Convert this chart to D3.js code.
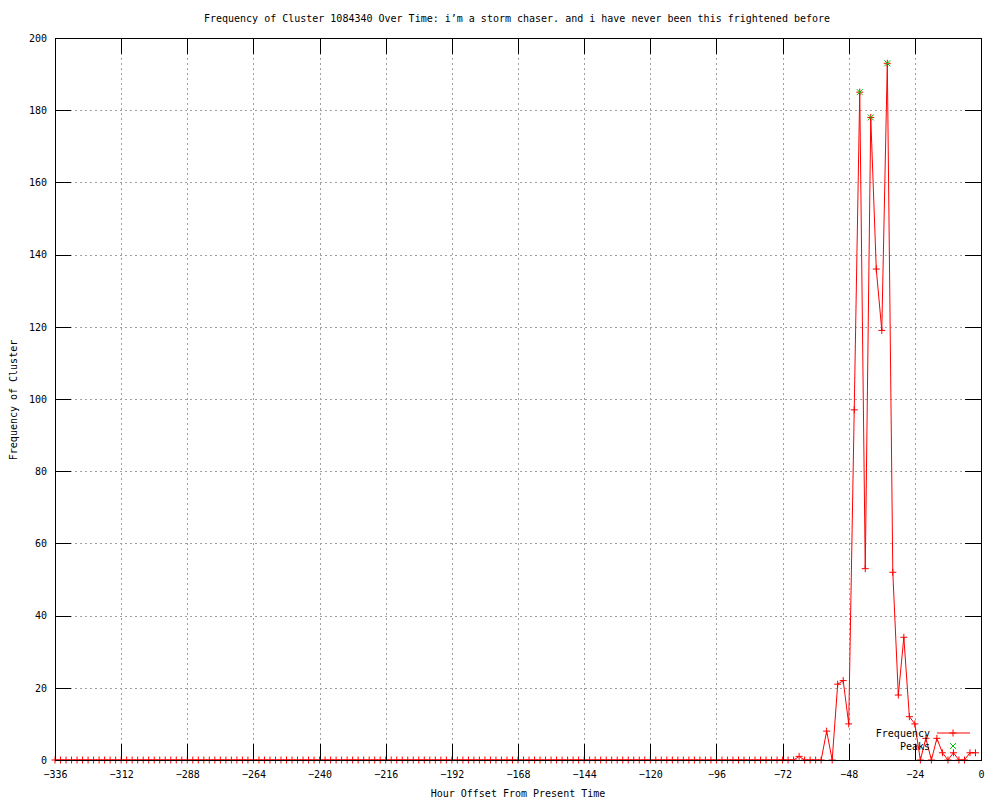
<!DOCTYPE html>
<html>
<head>
<meta charset="utf-8">
<script src="https://cdn.jsdelivr.net/npm/d3@7"></script>
<style>
  body { margin: 0; background: #fff; }
  svg text { font-family: "DejaVu Sans Mono", monospace; font-size: 10px; fill: #000; }
</style>
</head>
<body>
<div id="chart"></div>
<script>
// --- Data ---
const hours = [
  -336, -334, -332, -330, -328, -326, -324, -322, -320, -318, -316, -314,
  -312, -310, -308, -306, -304, -302, -300, -298, -296, -294, -292, -290,
  -288, -286, -284, -282, -280, -278, -276, -274, -272, -270, -268, -266,
  -264, -262, -260, -258, -256, -254, -252, -250, -248, -246, -244, -242,
  -240, -238, -236, -234, -232, -230, -228, -226, -224, -222, -220, -218,
  -216, -214, -212, -210, -208, -206, -204, -202, -200, -198, -196, -194,
  -192, -190, -188, -186, -184, -182, -180, -178, -176, -174, -172, -170,
  -168, -166, -164, -162, -160, -158, -156, -154, -152, -150, -148, -146,
  -144, -142, -140, -138, -136, -134, -132, -130, -128, -126, -124, -122,
  -120, -118, -116, -114, -112, -110, -108, -106, -104, -102, -100, -98,
  -96, -94, -92, -90, -88, -86, -84, -82, -80, -78, -76, -74,
  -72, -70, -68, -66, -64, -62, -60, -58, -56, -54, -52, -50,
  -48, -46, -44, -42, -40, -38, -36, -34, -32, -30, -28, -26,
  -24, -22, -20, -18, -16, -14, -12, -10, -8, -6, -4, -2
];

const frequency = [
  0, 0, 0, 0, 0, 0, 0, 0, 0, 0, 0, 0,
  0, 0, 0, 0, 0, 0, 0, 0, 0, 0, 0, 0,
  0, 0, 0, 0, 0, 0, 0, 0, 0, 0, 0, 0,
  0, 0, 0, 0, 0, 0, 0, 0, 0, 0, 0, 0,
  0, 0, 0, 0, 0, 0, 0, 0, 0, 0, 0, 0,
  0, 0, 0, 0, 0, 0, 0, 0, 0, 0, 0, 0,
  0, 0, 0, 0, 0, 0, 0, 0, 0, 0, 0, 0,
  0, 0, 0, 0, 0, 0, 0, 0, 0, 0, 0, 0,
  0, 0, 0, 0, 0, 0, 0, 0, 0, 0, 0, 0,
  0, 0, 0, 0, 0, 0, 0, 0, 0, 0, 0, 0,
  0, 0, 0, 0, 0, 0, 0, 0, 0, 0, 0, 0,
  0, 0, 0, 1, 0, 0, 0, 0, 8, 0, 21, 22,
  10, 97, 185, 53, 178, 136, 119, 193, 52, 18, 34, 12,
  10, 0, 6, 0, 6, 2, 0, 2, 0, 0, 2, 2
];

const peakHours = [-44, -40, -34];
const peakValues = [185, 178, 193];

const xTicks = [-336, -312, -288, -264, -240, -216, -192, -168, -144, -120, -96, -72, -48, -24, 0];
const yTicks = [0, 20, 40, 60, 80, 100, 120, 140, 160, 180, 200];

const titleText = "Frequency of Cluster 1084340 Over Time: i\u2019m a storm chaser. and i have never been this frightened before";

// --- Layout ---
const width = 1000, height = 800;
const plot = { left: 55, right: 981, top: 38, bottom: 760 };
const tickLen = 16;

const svg = d3.select("#chart").append("svg")
  .attr("width", width).attr("height", height);

const x = d3.scaleLinear().domain([-336, 0]).range([plot.left, plot.right]);
const y = d3.scaleLinear().domain([0, 200]).range([plot.bottom, plot.top]);

// grid (dotted gray, gnuplot style)
const grid = svg.append("g").attr("stroke", "#a0a0a0").attr("stroke-dasharray", "2,3").attr("shape-rendering", "crispEdges");
xTicks.slice(1, -1).forEach(t => {
  grid.append("line").attr("x1", Math.round(x(t)) + 0.5).attr("x2", Math.round(x(t)) + 0.5)
    .attr("y1", plot.top).attr("y2", plot.bottom);
});
yTicks.slice(1, -1).forEach(t => {
  grid.append("line").attr("y1", Math.round(y(t)) + 0.5).attr("y2", Math.round(y(t)) + 0.5)
    .attr("x1", plot.left).attr("x2", plot.right);
});

// data line + markers
const pts = hours.map((h, i) => ({ h: h, v: frequency[i] }));
svg.append("path")
  .datum(pts)
  .attr("fill", "none")
  .attr("stroke", "#ff0000")
  .attr("stroke-width", 1)
  .attr("d", d3.line().x(d => x(d.h)).y(d => y(d.v)));

function plus(g, cx, cy, s, color) {
  g.append("path")
    .attr("d", `M${cx - s},${cy}H${cx + s}M${cx},${cy - s}V${cy + s}`)
    .attr("stroke", color).attr("stroke-width", 1).attr("fill", "none");
}
function cross(g, cx, cy, s, color) {
  g.append("path")
    .attr("d", `M${cx - s},${cy - s}L${cx + s},${cy + s}M${cx - s},${cy + s}L${cx + s},${cy - s}`)
    .attr("stroke", color).attr("stroke-width", 1).attr("fill", "none");
}

const marks = svg.append("g");
pts.forEach(d => plus(marks, x(d.h), y(d.v), 3.5, "#ff0000"));
peakHours.forEach((h, i) => cross(marks, x(h), y(peakValues[i]), 3, "#00c000"));

// axes (ticks inward, mirrored)
const axB = svg.append("g").attr("transform", `translate(0,${plot.bottom})`)
  .call(d3.axisBottom(x).tickValues(xTicks).tickSize(-tickLen).tickPadding(11).tickFormat(d3.format("d")));
const axT = svg.append("g").attr("transform", `translate(0,${plot.top})`)
  .call(d3.axisTop(x).tickValues(xTicks).tickSize(-tickLen).tickFormat(""));
const axL = svg.append("g").attr("transform", `translate(${plot.left},0)`)
  .call(d3.axisLeft(y).tickValues(yTicks).tickSize(-tickLen).tickPadding(8).tickFormat(d3.format("d")));
const axR = svg.append("g").attr("transform", `translate(${plot.right},0)`)
  .call(d3.axisRight(y).tickValues(yTicks).tickSize(-tickLen).tickFormat(""));

[axB, axT, axL, axR].forEach(a => {
  a.select(".domain").remove();
  a.selectAll("line").attr("stroke", "#000").attr("shape-rendering", "crispEdges");
  a.selectAll("text").attr("font-family", "DejaVu Sans Mono, monospace").attr("font-size", 10).attr("fill", "#000");
});

// border
svg.append("rect")
  .attr("x", plot.left + 0.5).attr("y", plot.top + 0.5)
  .attr("width", plot.right - plot.left).attr("height", plot.bottom - plot.top)
  .attr("fill", "none").attr("stroke", "#000").attr("shape-rendering", "crispEdges");

// titles
svg.append("text").attr("x", 517).attr("y", 22).attr("text-anchor", "middle").text(titleText);
svg.append("text").attr("x", 518).attr("y", 797).attr("text-anchor", "middle").text("Hour Offset From Present Time");
svg.append("text").attr("transform", "translate(17,400) rotate(-90)").attr("text-anchor", "middle").text("Frequency of Cluster");

// legend
const leg = svg.append("g");
leg.append("text").attr("x", 930).attr("y", 737).attr("text-anchor", "end").text("Frequency");
leg.append("line").attr("x1", 937).attr("x2", 970).attr("y1", 733).attr("y2", 733).attr("stroke", "#ff0000");
plus(leg, 953, 733, 3.5, "#ff0000");
leg.append("text").attr("x", 930).attr("y", 750).attr("text-anchor", "end").text("Peaks");
cross(leg, 953, 746, 3, "#00c000");
</script>
</body>
</html>
